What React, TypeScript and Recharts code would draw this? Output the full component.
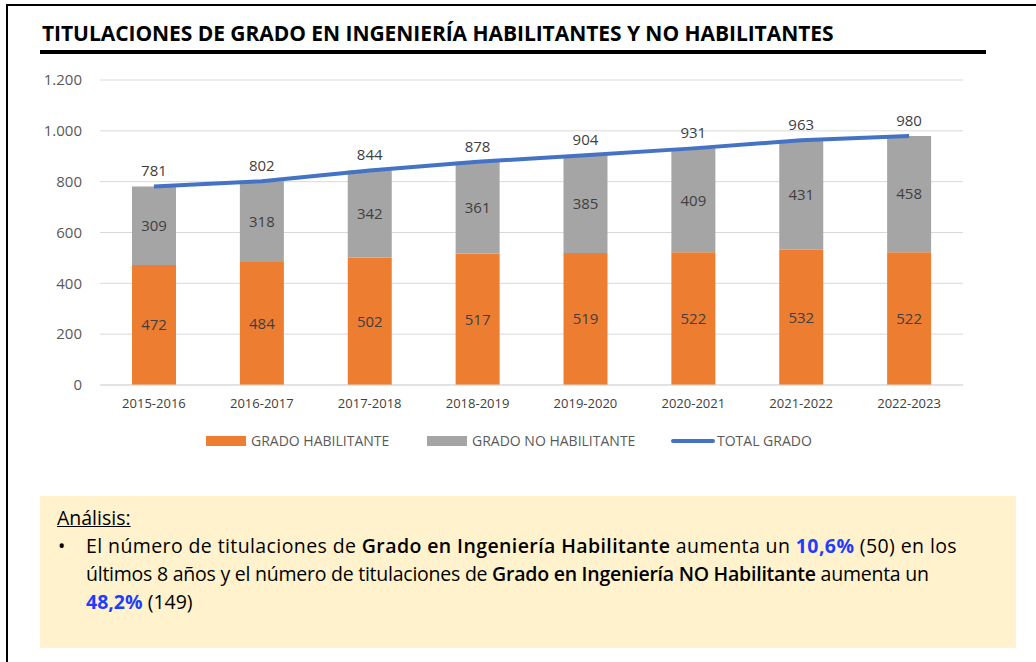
import { Bar, CartesianGrid, ComposedChart, LabelList, Line, XAxis, YAxis } from "recharts"

const years = ["2015-2016", "2016-2017", "2017-2018", "2018-2019", "2019-2020", "2020-2021", "2021-2022", "2022-2023"]
const habilitante = [472, 484, 502, 517, 519, 522, 532, 522]
const noHabilitante = [309, 318, 342, 361, 385, 409, 431, 458]
const total = [781, 802, 844, 878, 904, 931, 963, 980]
const yTicks = [0, 200, 400, 600, 800, 1000, 1200]

const ORANGE = "#ED7D31"
const GRAY = "#A5A5A5"
const BLUE = "#4472C4"
const TEXT = "'Open Sans', 'Noto Sans', sans-serif"

const data = years.map((y, i) => ({
    year: y,
    hab: habilitante[i],
    noHab: noHabilitante[i],
    total: total[i],
}))

const fmt = (v: number) => String(v).replace(/\B(?=(\d{3})+(?!\d))/g, ".")

const legendItems = [
    { label: "GRADO HABILITANTE", color: ORANGE, kind: "box", left: 206 },
    { label: "GRADO NO HABILITANTE", color: GRAY, kind: "box", left: 427 },
    { label: "TOTAL GRADO", color: BLUE, kind: "line", left: 671 },
]

export default function App() {
    return (
        <div style={{ position: "fixed", left: 0, top: 0, width: 1036, height: 662, background: "#fff", overflow: "hidden" }}>
            {/* frame */}
            <div style={{ position: "absolute", left: 6, top: 4, width: 1030, height: 2, background: "#000" }} />
            <div style={{ position: "absolute", left: 6, top: 4, width: 2, height: 658, background: "#000" }} />

            <div style={{ position: "absolute", left: 42, top: 19, fontFamily: TEXT, fontWeight: 700, fontSize: 21, letterSpacing: -0.05, color: "#000", whiteSpace: "nowrap" }}>
                TITULACIONES DE GRADO EN INGENIERÍA HABILITANTES Y NO HABILITANTES
            </div>
            <div style={{ position: "absolute", left: 40, top: 50, width: 946, height: 4, background: "#000" }} />

            <div style={{ position: "absolute", left: 0, top: 0 }}>
                <ComposedChart width={1036} height={470} data={data} margin={{ top: 80, right: 73, left: 40, bottom: 55 }}>
                    <CartesianGrid vertical={false} stroke="#D9D9D9" />
                    <XAxis
                        dataKey="year"
                        tickLine={false}
                        axisLine={{ stroke: "#D9D9D9" }}
                        tickMargin={8}
                        height={30}
                        tick={{ fill: "#404040", fontSize: 13, fontFamily: TEXT }}
                    />
                    <YAxis
                        domain={[0, 1200]}
                        ticks={yTicks}
                        width={60}
                        axisLine={false}
                        tickLine={false}
                        tickSize={0}
                        tickMargin={18}
                        tickFormatter={fmt}
                        tick={{ fill: "#595959", fontSize: 15, fontFamily: TEXT }}
                    />
                    <Bar dataKey="hab" stackId="a" fill={ORANGE} barSize={44} isAnimationActive={false}>
                        <LabelList dataKey="hab" position="center" fill="#404040" fontSize={15} fontFamily={TEXT} />
                    </Bar>
                    <Bar dataKey="noHab" stackId="a" fill={GRAY} barSize={44} isAnimationActive={false}>
                        <LabelList dataKey="noHab" position="center" fill="#404040" fontSize={15} fontFamily={TEXT} />
                    </Bar>
                    <Line dataKey="total" stroke={BLUE} strokeWidth={4} dot={false} activeDot={false} isAnimationActive={false}>
                        <LabelList dataKey="total" position="top" offset={10} fill="#404040" fontSize={15} fontFamily={TEXT} />
                    </Line>
                </ComposedChart>
            </div>

            {legendItems.map((it) => (
                <div key={it.label} style={{ position: "absolute", left: it.left, top: 431, display: "flex", alignItems: "center", whiteSpace: "nowrap" }}>
                    <div style={{ width: it.kind === "box" ? 40 : 44, height: it.kind === "box" ? 10 : 4, background: it.color, marginRight: it.kind === "box" ? 5 : 2, borderRadius: it.kind === "line" ? 2 : 0 }} />
                    <span style={{ fontFamily: TEXT, fontSize: 14, color: "#595959" }}>{it.label}</span>
                </div>
            ))}

            <div style={{ position: "absolute", left: 40, top: 496, width: 976, height: 152, background: "#FFF2CC", fontFamily: TEXT, fontSize: 19.5, color: "#000", lineHeight: "28px" }}>
                <div style={{ position: "absolute", left: 17, top: 8, textDecoration: "underline" }}>Análisis:</div>
                <div style={{ position: "absolute", left: 18, top: 36 }}>•</div>
                <div style={{ position: "absolute", left: 46, top: 36, whiteSpace: "nowrap" }}>
                    <div style={{ letterSpacing: 0.4 }}>
                        El número de titulaciones de <b style={{ fontWeight: 600 }}>Grado en Ingeniería Habilitante</b> aumenta un{" "}
                        <b style={{ color: "#1F3DFF" }}>10,6%</b> (50) en los
                    </div>
                    <div style={{ letterSpacing: -0.24 }}>
                        últimos 8 años y el número de titulaciones de <b style={{ fontWeight: 600 }}>Grado en Ingeniería NO Habilitante</b> aumenta un
                    </div>
                    <div>
                        <b style={{ color: "#1F3DFF" }}>48,2%</b> (149)
                    </div>
                </div>
            </div>
        </div>
    )
}
